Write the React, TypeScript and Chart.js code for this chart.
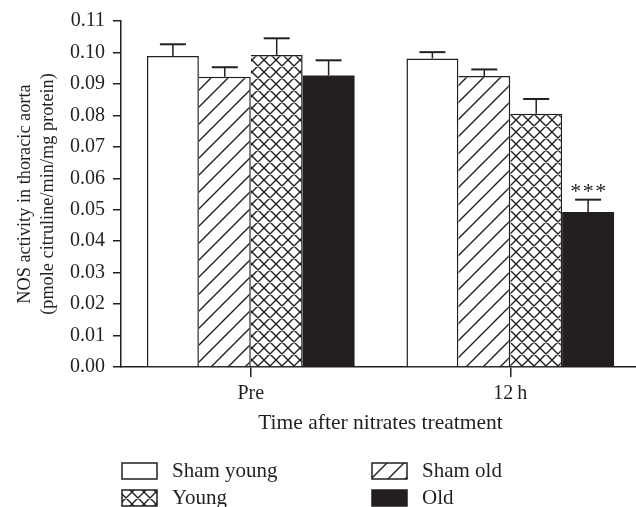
import React, { useEffect, useRef } from "react";
import { Chart, registerables } from "chart.js";

Chart.register(...registerables);

// ---- data ----
const categories = ["Pre", "12\u2009h"];
const seriesNames = ["Sham young", "Sham old", "Young", "Old"];
const shamYoung = [0.0989, 0.0981];
const shamYoungErr = [0.0037, 0.002];
const shamOld = [0.0923, 0.0925];
const shamOldErr = [0.003, 0.0021];
const young = [0.0992, 0.0805];
const youngErr = [0.0053, 0.0047];
const old = [0.0927, 0.0493];
const oldErr = [0.0048, 0.0039];
const oldSignificance = ["", "***"];
const yMin = 0;
const yMax = 0.11;
const yStep = 0.01;
const xTitle = "Time after nitrates treatment";
const yTitle = ["NOS activity in thoracic aorta", "(pmole citruline/min/mg protein)"];

const INK = "#231f20";
const FAMILY = '"Liberation Serif", "Times New Roman", serif';

function makePattern(kind: "diag" | "cross"): CanvasPattern | string {
  const size = kind === "diag" ? 17 : 12;
  const c = document.createElement("canvas");
  c.width = size;
  c.height = size;
  const g = c.getContext("2d");
  if (!g) return "#fff";
  g.fillStyle = "#fff";
  g.fillRect(0, 0, size, size);
  g.strokeStyle = INK;
  g.lineWidth = 1.4;
  g.beginPath();
  for (let k = -1; k <= 1; k++) {
    const s = size * (k + 1);
    g.moveTo(s - size - 2, size + 2);
    g.lineTo(s + 2, -2);
    if (kind === "cross") {
      const d = size * k;
      g.moveTo(d - 2, -2);
      g.lineTo(d + size + 2, size + 2);
    }
  }
  g.stroke();
  const p = g.createPattern(c, "repeat");
  return p || "#fff";
}

export default function App() {
  const ref = useRef<HTMLCanvasElement | null>(null);

  useEffect(() => {
    if (!ref.current) return;
    const diag = makePattern("diag");
    const cross = makePattern("cross");
    const errors = [shamYoungErr, shamOldErr, youngErr, oldErr];
    const significance = [["", ""], ["", ""], ["", ""], oldSignificance];

    const errorBarPlugin = {
      id: "errorBars",
      afterDatasetsDraw(chart: any) {
        const ctx = chart.ctx as CanvasRenderingContext2D;
        const ys = chart.scales.y;
        chart.data.datasets.forEach((ds: any, i: number) => {
          const meta = chart.getDatasetMeta(i);
          meta.data.forEach((bar: any, j: number) => {
            const v = ds.data[j] as number;
            const topPx = ys.getPixelForValue(v + errors[i][j]);
            const x = bar.x;
            ctx.save();
            ctx.strokeStyle = INK;
            ctx.lineWidth = 1.5;
            ctx.beginPath();
            ctx.moveTo(x, bar.y);
            ctx.lineTo(x, topPx);
            ctx.stroke();
            ctx.lineWidth = 2;
            ctx.beginPath();
            ctx.moveTo(x - 13, topPx);
            ctx.lineTo(x + 13, topPx);
            ctx.stroke();
            const sig = significance[i][j];
            if (sig) {
              ctx.fillStyle = INK;
              ctx.font = `22px ${FAMILY}`;
              ctx.textAlign = "center";
              ctx.textBaseline = "alphabetic";
              (ctx as any).letterSpacing = "1.5px";
              ctx.fillText(sig, x + 1, topPx - 2);
            }
            ctx.restore();
          });
        });
      },
    };

    const legendPlugin = {
      id: "twoColLegend",
      afterDraw(chart: any) {
        const ctx = chart.ctx as CanvasRenderingContext2D;
        const area = chart.chartArea;
        const colX = [area.left + 1, area.left + 251];
        const rowY = [chart.height - 44, chart.height - 17];
        chart.data.datasets.forEach((ds: any, i: number) => {
          const bx = colX[i % 2];
          const by = rowY[Math.floor(i / 2)];
          ctx.save();
          ctx.fillStyle = ds.backgroundColor;
          ctx.fillRect(bx, by, 35, 16);
          ctx.strokeStyle = INK;
          ctx.lineWidth = 1.5;
          ctx.strokeRect(bx, by, 35, 16);
          ctx.fillStyle = INK;
          ctx.font = `21px ${FAMILY}`;
          ctx.textAlign = "left";
          ctx.textBaseline = "middle";
          ctx.fillText(ds.label, bx + 50, by + 8);
          ctx.restore();
        });
      },
    };

    const bw = 1.5;
    const chart = new Chart(ref.current, {
      type: "bar",
      data: {
        labels: categories,
        datasets: [
          {
            label: seriesNames[0],
            data: shamYoung,
            backgroundColor: "#ffffff",
            borderColor: INK,
            borderWidth: { left: bw, top: bw, right: bw, bottom: 0 },
            borderSkipped: false,
          },
          {
            label: seriesNames[1],
            data: shamOld,
            backgroundColor: diag as any,
            borderColor: INK,
            borderWidth: { left: 0, top: bw, right: bw, bottom: 0 },
            borderSkipped: false,
          },
          {
            label: seriesNames[2],
            data: young,
            backgroundColor: cross as any,
            borderColor: INK,
            borderWidth: { left: 0, top: bw, right: bw, bottom: 0 },
            borderSkipped: false,
          },
          {
            label: seriesNames[3],
            data: old,
            backgroundColor: INK,
            borderColor: INK,
            borderWidth: 0,
            borderSkipped: false,
          },
        ] as any,
      },
      options: {
        animation: false,
        responsive: true,
        maintainAspectRatio: false,
        datasets: { bar: { categoryPercentage: 0.8, barPercentage: 1.0 } } as any,
        layout: { padding: { left: 0, right: 4, top: 21, bottom: 70 } },
        plugins: { legend: { display: false }, tooltip: { enabled: false } },
        scales: {
          x: {
            type: "category",
            offset: true,
            grid: {
              display: true,
              drawOnChartArea: false,
              drawTicks: true,
              tickLength: 10,
              offset: false,
              color: INK,
              lineWidth: 1.5,
            },
            border: { display: true, color: INK, width: 1.5 },
            ticks: { color: INK, font: { family: FAMILY, size: 20 }, padding: 5 },
            title: {
              display: true,
              text: xTitle,
              color: INK,
              font: { family: FAMILY, size: 21.5 },
              padding: { top: 0, bottom: 1 },
            },
            afterFit: (s: any) => {
              s.height = 70;
            },
          } as any,
          y: {
            min: yMin,
            max: yMax,
            ticks: {
              stepSize: yStep,
              color: INK,
              font: { family: FAMILY, size: 20 },
              padding: 8,
              callback: (v: any) => Number(v).toFixed(2),
            },
            grid: {
              display: true,
              drawOnChartArea: false,
              drawTicks: true,
              tickLength: 8,
              color: INK,
              lineWidth: 1.5,
            },
            border: { display: true, color: INK, width: 1.5 },
            title: {
              display: true,
              text: yTitle,
              color: INK,
              font: { family: FAMILY, size: 18.3, lineHeight: 1.26 },
              padding: { top: 13.5, bottom: 0 },
            },
            afterFit: (s: any) => {
              s.width = 121;
            },
          } as any,
        },
      },
      plugins: [errorBarPlugin, legendPlugin],
    });
    return () => chart.destroy();
  }, []);

  return (
    <div
      style={{
        position: "fixed",
        left: 0,
        top: 0,
        width: 636,
        height: 507,
        overflow: "hidden",
        background: "#fff",
      }}
    >
      <div style={{ position: "relative", width: 644, height: 507 }}>
        <canvas ref={ref} />
      </div>
    </div>
  );
}
